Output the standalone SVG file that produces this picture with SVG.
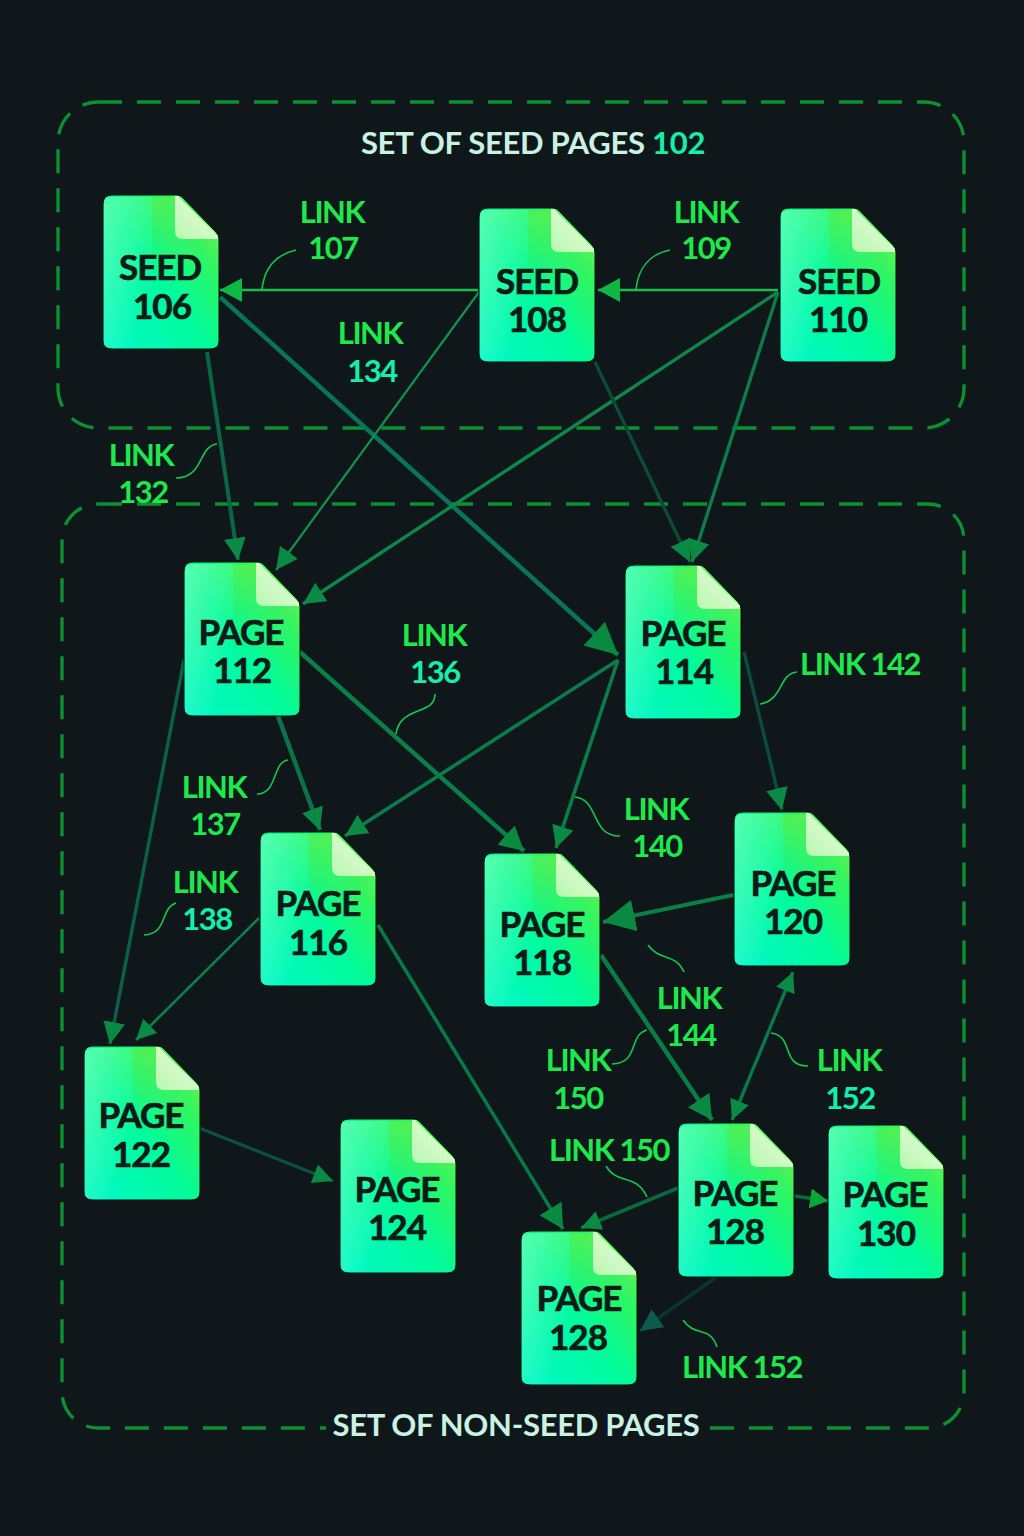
<svg xmlns="http://www.w3.org/2000/svg" width="1024" height="1536" viewBox="0 0 1024 1536">
<style>
text{font-family:"Lato","Noto Sans",sans-serif;font-weight:700;text-anchor:middle}
.n{font-size:35px;letter-spacing:-1px;fill:#0c1a18;stroke:#0c1a18;stroke-width:.7px}
.l{font-size:31px;letter-spacing:-1.5px;fill:#1ee84c}
.c{fill:#14f0aa}
.t{font-size:31px;letter-spacing:-.3px;fill:#c9f2e2}
.box{fill:none;stroke:#0c9030;stroke-width:3.4;stroke-dasharray:24 15}
.lead{fill:none;stroke:#16c84a;stroke-width:1.6}
</style>
<defs>
<linearGradient id="body" x1="0" y1="1" x2="1" y2="0.1"><stop offset="0" stop-color="#00f8cc"/><stop offset=".5" stop-color="#00fb9c"/><stop offset=".8" stop-color="#30f660"/><stop offset="1" stop-color="#78f640"/></linearGradient>
<linearGradient id="left" x1="0" y1="0" x2="0.8" y2="0.8"><stop offset="0" stop-color="#a0ffc0" stop-opacity=".55"/><stop offset="1" stop-color="#a0ffc0" stop-opacity="0"/></linearGradient>
<linearGradient id="band" x1="0" y1="0" x2="0" y2="1"><stop offset="0" stop-color="#5cee50"/><stop offset="1" stop-color="#38ee70" stop-opacity="0"/></linearGradient>
<linearGradient id="fold" x1="0" y1="1" x2="1" y2="0"><stop offset="0" stop-color="#b8f8b0"/><stop offset="1" stop-color="#eefce0"/></linearGradient>
<marker id="a1" markerUnits="userSpaceOnUse" markerWidth="30" markerHeight="30" refX="24" refY="13" orient="auto"><path d="M0 0L24 13L0 26Z" fill="#0a8a40"/></marker>
<marker id="a2" markerUnits="userSpaceOnUse" markerWidth="30" markerHeight="30" refX="22" refY="11" orient="auto"><path d="M0 0L22 11L0 22Z" fill="#0a8a44"/></marker>
<marker id="a3" markerUnits="userSpaceOnUse" markerWidth="30" markerHeight="30" refX="22" refY="12" orient="auto"><path d="M0 0L22 12L0 24Z" fill="#0fb845"/></marker>
<marker id="a4" markerUnits="userSpaceOnUse" markerWidth="40" markerHeight="40" refX="32" refY="16" orient="auto"><path d="M0 0L32 16L0 32Z" fill="#0a8a40"/></marker>
<marker id="a5" markerUnits="userSpaceOnUse" markerWidth="30" markerHeight="30" refX="22" refY="11" orient="auto"><path d="M0 0L22 11L0 22Z" fill="#0b5c4c"/></marker>
<marker id="a6" markerUnits="userSpaceOnUse" markerWidth="30" markerHeight="30" refX="20" refY="10" orient="auto-start-reverse"><path d="M0 0L20 10L0 20Z" fill="#0a8a44"/></marker>
<marker id="a7" markerUnits="userSpaceOnUse" markerWidth="30" markerHeight="30" refX="18" refY="10" orient="auto"><path d="M0 0L18 10L0 20Z" fill="#0aa838"/></marker>
<g id="doc">
<path d="M9 0H74Q77 0 79 2L113 37Q116 40 116 44V146Q116 154 107 154H9Q0 154 0 146V9Q0 0 9 0Z" fill="url(#body)" stroke="#05100e" stroke-width="1"/>
<path d="M9 2H49V153H9Q1 153 1 146V9Q1 2 9 2Z" fill="url(#left)"/>
<path d="M49 3H72V38Q72 44 78 44H113V70L70 60L49 84Z" fill="url(#band)" opacity=".75"/>
<path d="M75 1L115 41V44H80Q72 44 72 36V1Z" fill="url(#fold)"/>
</g>
</defs>
<rect id="background" width="1024" height="1536" fill="#0f171b"/>
<g id="groups">
<rect class="box" x="58" y="102" width="906" height="326" rx="40"/>
<rect class="box" x="62" y="504" width="902" height="924" rx="36"/>
<rect x="326" y="1410" width="378" height="30" fill="#0f171b"/>
</g>
<g id="connectors" fill="none">
<path d="M478 290H220" stroke="#12c04c" stroke-width="2.5" marker-end="url(#a3)"/>
<path d="M778 290H598" stroke="#12c04c" stroke-width="2.5" marker-end="url(#a3)"/>
<path d="M220 297L618 655" stroke="#0a7458" stroke-width="4.5" marker-end="url(#a4)"/>
<path d="M207 352L238 560" stroke="#0b6648" stroke-width="4" marker-end="url(#a2)"/>
<path d="M479 292L276 570" stroke="#12924c" stroke-width="2.2" marker-end="url(#a2)"/>
<path d="M778 292L303 604" stroke="#0e8648" stroke-width="3.4" marker-end="url(#a2)"/>
<path d="M595 362L690 562" stroke="#0b4c38" stroke-width="3.4" marker-end="url(#a2)"/>
<path d="M778 292L692 562" stroke="#0e7c48" stroke-width="3.4" marker-end="url(#a2)"/>
<path d="M300 652L524 851" stroke="#0a8048" stroke-width="4.5" marker-end="url(#a1)"/>
<path d="M278 716L320 830" stroke="#0a7448" stroke-width="4.5" marker-end="url(#a2)"/>
<path d="M618 660L345 836" stroke="#0a7c48" stroke-width="3.6" marker-end="url(#a2)"/>
<path d="M618 660L556 848" stroke="#0a7c48" stroke-width="3.6" marker-end="url(#a2)"/>
<path d="M184 660L110 1044" stroke="#0b6048" stroke-width="3.4" marker-end="url(#a2)"/>
<path d="M744 652L782 810" stroke="#0b4c3a" stroke-width="3.4" marker-end="url(#a2)"/>
<path d="M733 895L603 922" stroke="#0a8044" stroke-width="4" marker-end="url(#a4)"/>
<path d="M601 955L712 1120" stroke="#0a7c44" stroke-width="4.5" marker-end="url(#a1)"/>
<path d="M793 972L732 1120" stroke="#0a7848" stroke-width="3.4" marker-start="url(#a6)" marker-end="url(#a6)"/>
<path d="M259 918L136 1040" stroke="#0a8448" stroke-width="2.6" marker-end="url(#a6)"/>
<path d="M378 925L563 1229" stroke="#0a7844" stroke-width="3.6" marker-end="url(#a1)"/>
<path d="M199 1128L333 1181" stroke="#0b5040" stroke-width="3.4" marker-end="url(#a6)"/>
<path d="M678 1188L581 1228" stroke="#0a6a3c" stroke-width="3.6" marker-end="url(#a6)"/>
<path d="M795 1196L828 1201" stroke="#0a6a3c" stroke-width="3.4" marker-end="url(#a7)"/>
<path d="M715 1278L640 1331" stroke="#0a3630" stroke-width="3.4" marker-end="url(#a5)"/>
</g>
<g id="leaders">
<path class="lead" d="M296 250C275 255 264 268 262 290"/>
<path class="lead" d="M670 250C650 254 638 268 636 290"/>
<path class="lead" d="M217 444C198 446 204 478 176 478"/>
<path class="lead" d="M435 694C435 716 400 705 396 734"/>
<path class="lead" d="M288 760C272 762 278 794 257 794"/>
<path class="lead" d="M176 903C160 908 168 934 144 935"/>
<path class="lead" d="M797 672C778 674 784 700 760 704"/>
<path class="lead" d="M575 797C600 800 590 836 620 836"/>
<path class="lead" d="M648 945C660 962 675 952 684 972"/>
<path class="lead" d="M647 1030C628 1035 640 1063 612 1064"/>
<path class="lead" d="M771 1033C795 1036 780 1066 808 1066"/>
<path class="lead" d="M606 1166C618 1186 635 1172 647 1197"/>
<path class="lead" d="M683 1320C695 1338 710 1325 717 1347"/>
</g>
<g id="labels">
<text class="t" x="533" y="154">SET OF SEED PAGES <tspan class="c">102</tspan></text>
<text class="l" x="332" y="223">LINK</text><text class="l" x="333" y="259">107</text>
<text class="l" x="706" y="223">LINK</text><text class="l" x="706" y="259">109</text>
<text class="l" x="370" y="344">LINK</text><text class="l c" x="372" y="382">134</text>
<text class="l" x="141" y="466">LINK</text><text class="l" x="143" y="503">132</text>
<text class="l" x="434" y="646">LINK</text><text class="l c" x="435" y="683">136</text>
<text class="l" x="214" y="798">LINK</text><text class="l" x="215" y="835">137</text>
<text class="l" x="205" y="893">LINK</text><text class="l c" x="207" y="930">138</text>
<text class="l" x="860" y="675">LINK 142</text>
<text class="l" x="656" y="820">LINK</text><text class="l" x="657" y="857">140</text>
<text class="l" x="689" y="1009">LINK</text><text class="l" x="691" y="1046">144</text>
<text class="l" x="578" y="1071">LINK</text><text class="l" x="578" y="1109">150</text>
<text class="l" x="849" y="1071">LINK</text><text class="l c" x="850" y="1109">152</text>
<text class="l" x="609" y="1161">LINK 150</text>
<text class="l" x="742" y="1378">LINK 152</text>
<text class="t" x="516" y="1436">SET OF NON-SEED PAGES</text>
</g>
<g id="seed-106" transform="translate(103 195)"><use href="#doc"/><text class="n" x="57" y="85">SEED</text><text class="n" x="59" y="124">106</text></g>
<g id="seed-108" transform="translate(479 208)"><use href="#doc"/><text class="n" x="58" y="86">SEED</text><text class="n" x="58" y="124">108</text></g>
<g id="seed-110" transform="translate(780 208)"><use href="#doc"/><text class="n" x="59" y="86">SEED</text><text class="n" x="58" y="124">110</text></g>
<g id="page-112" transform="translate(184 562)"><use href="#doc"/><text class="n" x="57" y="83">PAGE</text><text class="n" x="58" y="121">112</text></g>
<g id="page-114" transform="translate(625 565)"><use href="#doc"/><text class="n" x="58" y="81">PAGE</text><text class="n" x="59" y="119">114</text></g>
<g id="page-116" transform="translate(260 832)"><use href="#doc"/><text class="n" x="58" y="84">PAGE</text><text class="n" x="58" y="123">116</text></g>
<g id="page-118" transform="translate(484 853)"><use href="#doc"/><text class="n" x="58" y="84">PAGE</text><text class="n" x="58" y="122">118</text></g>
<g id="page-120" transform="translate(734 812)"><use href="#doc"/><text class="n" x="59" y="84">PAGE</text><text class="n" x="59" y="122">120</text></g>
<g id="page-122" transform="translate(84 1046)"><use href="#doc"/><text class="n" x="57" y="82">PAGE</text><text class="n" x="57" y="121">122</text></g>
<g id="page-124" transform="translate(340 1119)"><use href="#doc"/><text class="n" x="57" y="83">PAGE</text><text class="n" x="57" y="121">124</text></g>
<g id="page-128-a" transform="translate(678 1123)"><use href="#doc"/><text class="n" x="57" y="83">PAGE</text><text class="n" x="57" y="121">128</text></g>
<g id="page-130" transform="translate(828 1125)"><use href="#doc"/><text class="n" x="57" y="82">PAGE</text><text class="n" x="58" y="121">130</text></g>
<g id="page-128-b" transform="translate(521 1231)"><use href="#doc"/><text class="n" x="58" y="80">PAGE</text><text class="n" x="57" y="119">128</text></g>
</svg>
